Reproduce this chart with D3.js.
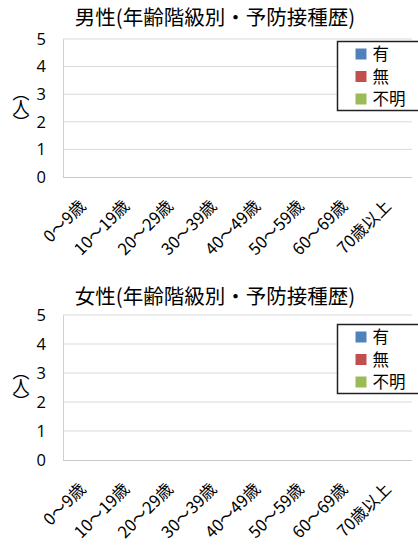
<!DOCTYPE html>
<html>
<head>
<meta charset="utf-8">
<script src="https://cdn.jsdelivr.net/npm/d3@7"></script>
<style>
  body { margin: 0; background: #fff; }
  svg { display: block; }
  svg text { font-family: "Noto Sans CJK JP", "Noto Sans", sans-serif; }
</style>
</head>
<body>
<div id="chart"></div>
<script>
// DATA
const ageGroups = ["0〜9歳", "10〜19歳", "20〜29歳", "30〜39歳", "40〜49歳", "50〜59歳", "60〜69歳", "70歳以上"]
const seriesNames = ["有", "無", "不明"]
const seriesColors = ["#4F81BD", "#C0504D", "#9BBB59"]
const yTicks = [0, 1, 2, 3, 4, 5]

const maleYes = [0, 0, 0, 0, 0, 0, 0, 0]
const maleNo = [0, 0, 0, 0, 0, 0, 0, 0]
const maleUnknown = [0, 0, 0, 0, 0, 0, 0, 0]
const femaleYes = [0, 0, 0, 0, 0, 0, 0, 0]
const femaleNo = [0, 0, 0, 0, 0, 0, 0, 0]
const femaleUnknown = [0, 0, 0, 0, 0, 0, 0, 0]

const charts = [
    { title: "男性(年齢階級別・予防接種歴)", series: [maleYes, maleNo, maleUnknown],
      titleY: 25, top: 39, bottom: 177, legendTop: 41 },
    { title: "女性(年齢階級別・予防接種歴)", series: [femaleYes, femaleNo, femaleUnknown],
      titleY: 304, top: 315, bottom: 460, legendTop: 324 }
]

const width = 418, height = 547
const left = 63, right = 412

const svg = d3.select("#chart")
    .append("svg")
    .attr("width", width)
    .attr("height", height)

charts.forEach(c => {
    const g = svg.append("g")

    // SCALES
    const xScale = d3.scaleBand()
        .domain(ageGroups)
        .range([left, right])
        .paddingInner(0.3)
        .paddingOuter(0.15)

    const xSub = d3.scaleBand()
        .domain(seriesNames)
        .range([0, xScale.bandwidth()])

    const yScale = d3.scaleLinear()
        .domain([0, 5])
        .range([c.bottom, c.top])

    // TITLE
    g.append("text")
        .attr("x", 215)
        .attr("y", c.titleY)
        .attr("text-anchor", "middle")
        .attr("font-size", "20.5px")
        .attr("fill", "#000")
        .text(c.title)

    // GRIDLINES
    g.append("g")
        .selectAll("line")
        .data(yTicks.filter(t => t > 0))
        .join("line")
        .attr("x1", left)
        .attr("x2", right)
        .attr("y1", d => yScale(d))
        .attr("y2", d => yScale(d))
        .attr("stroke", "#D9D9D9")
        .attr("stroke-width", 1)

    // Y AXIS
    const yAxis = g.append("g")
        .attr("transform", `translate(${left},0)`)
        .call(d3.axisLeft(yScale).tickValues(yTicks).tickSize(0).tickPadding(17).tickFormat(d3.format("d")))
    yAxis.select(".domain").attr("stroke", "#D0D0D0")
    yAxis.selectAll("text")
        .attr("font-size", "16.5px")
        .attr("fill", "#000")
        .style("font-family", "'Open Sans', 'Noto Sans', sans-serif")

    // X AXIS
    const xAxis = g.append("g")
        .attr("transform", `translate(0,${c.bottom})`)
        .call(d3.axisBottom(xScale).tickSize(0).tickPadding(0))
    xAxis.select(".domain").attr("stroke", "#C8C8C8").attr("d", `M${left},0.5H${right}`)
    xAxis.selectAll("text")
        .attr("font-size", "16.5px")
        .attr("fill", "#000")
        .attr("text-anchor", "end")
        .attr("y", 0)
        .attr("dy", "0.35em")
        .attr("transform", "translate(-2,26) rotate(-45)")

    // BARS
    c.series.forEach((vals, si) => {
        g.append("g")
            .selectAll("rect")
            .data(vals)
            .join("rect")
            .attr("x", (d, i) => xScale(ageGroups[i]) + xSub(seriesNames[si]))
            .attr("width", xSub.bandwidth())
            .attr("y", d => yScale(d))
            .attr("height", d => yScale(0) - yScale(d))
            .attr("fill", seriesColors[si])
    })

    // Y LABEL (vertical, stacked in one text)
    const mid = (c.top + c.bottom) / 2
    const yLabel = g.append("text")
        .attr("text-anchor", "middle")
        .attr("font-size", "17px")
        .attr("fill", "#000")
    yLabel.selectAll("tspan")
        .data(["︵", "人", "︶"])
        .join("tspan")
        .attr("x", 21)
        .attr("y", (d, i) => mid + (i - 1) * 15)
        .attr("dy", "0.35em")
        .text(d => d)

    // LEGEND
    const legend = g.append("g")
        .attr("transform", `translate(337.5,${c.legendTop + 0.5})`)
    legend.append("rect")
        .attr("width", 90)
        .attr("height", 69)
        .attr("fill", "#fff")
        .attr("stroke", "#222")
        .attr("stroke-width", 1.5)
    seriesNames.forEach((s, i) => {
        legend.append("rect")
            .attr("x", 18)
            .attr("y", 7 + i * 22.5)
            .attr("width", 11)
            .attr("height", 11)
            .attr("fill", seriesColors[i])
        legend.append("text")
            .attr("x", 35)
            .attr("y", 13 + i * 22.5)
            .attr("dy", "0.36em")
            .attr("font-size", "16.5px")
            .attr("fill", "#000")
            .text(s)
    })
})
</script>
</body>
</html>
